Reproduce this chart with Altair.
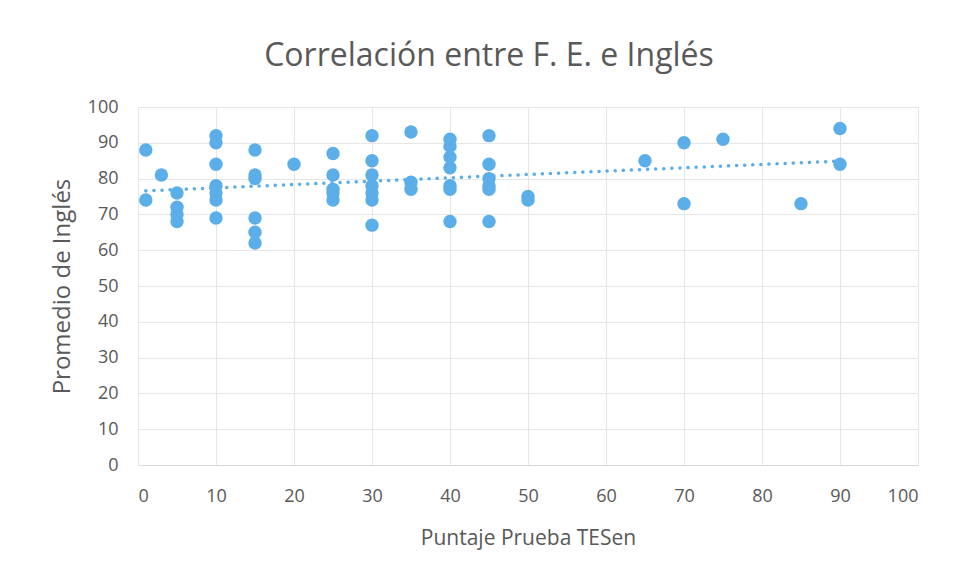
import altair as alt
import pandas as pd

# Puntaje Prueba TESen (x) and Promedio de Inglés (y)
tesen = [1, 1, 3,
         5, 5, 5, 5,
         10, 10, 10, 10, 10, 10, 10,
         15, 15, 15, 15, 15, 15,
         20,
         25, 25, 25, 25, 25,
         30, 30, 30, 30, 30, 30, 30,
         35, 35, 35,
         40, 40, 40, 40, 40, 40, 40,
         45, 45, 45, 45, 45, 45,
         50, 50,
         65, 70, 70, 75, 85, 90, 90]
ingles = [88, 74, 81,
          76, 72, 70, 68,
          92, 90, 84, 78, 76, 74, 69,
          88, 81, 80, 69, 65, 62,
          84,
          87, 81, 77, 76, 74,
          92, 85, 81, 78, 76, 74, 67,
          93, 79, 77,
          91, 89, 86, 83, 78, 77, 68,
          92, 84, 80, 78, 77, 68,
          75, 74,
          85, 90, 73, 91, 73, 94, 84]

axis_ticks = list(range(0, 101, 10))

df = pd.DataFrame({"TESen": tesen, "Ingles": ingles})

BLUE = "#5BAEE8"
GREY = "#595959"
FONT = "Open Sans"

xscale = alt.Scale(domain=[0, 100], nice=False)
yscale = alt.Scale(domain=[0, 100], nice=False)

xaxis = alt.Axis(values=axis_ticks, title="Puntaje Prueba TESen", grid=True,
                 gridColor="#e6e6e6", domainColor="#d9d9d9", ticks=False,
                 labelPadding=22, labelFontSize=18, labelColor=GREY,
                 labelFont=FONT, titleFont=FONT, titleFontSize=21,
                 titleFontWeight="normal", titleColor=GREY, titlePadding=22,
                 labelOverlap=False)
yaxis = alt.Axis(values=axis_ticks, title="Promedio de Inglés", grid=True,
                 gridColor="#e6e6e6", domain=False, ticks=False,
                 labelPadding=20, labelFontSize=18, labelColor=GREY,
                 labelFont=FONT, titleFont=FONT, titleFontSize=24,
                 titleFontWeight="normal", titleColor=GREY, titlePadding=13,
                 labelOverlap=False)

points = alt.Chart(df).mark_circle(size=180, opacity=1, color=BLUE).encode(
    x=alt.X("TESen:Q", scale=xscale, axis=xaxis),
    y=alt.Y("Ingles:Q", scale=yscale, axis=yaxis),
)

trend = alt.Chart(df).mark_line(
    color=BLUE, strokeWidth=3.5, strokeDash=[0.1, 8], strokeCap="round"
).transform_regression("TESen", "Ingles").encode(
    x=alt.X("TESen:Q", scale=xscale, axis=xaxis),
    y=alt.Y("Ingles:Q", scale=yscale, axis=yaxis),
)

chart = alt.layer(points, trend).properties(
    width=780, height=358,
    title=alt.Title("Correlación entre F. E. e Inglés", font=FONT, fontSize=32,
                    fontWeight="normal", color=GREY, offset=25, anchor="middle",
                    dx=-39),
    padding={"left": 42, "top": 32, "right": 10, "bottom": 10},
).configure_view(stroke=None)

chart.save("out.html", embed_options={"renderer": "svg", "actions": False})
